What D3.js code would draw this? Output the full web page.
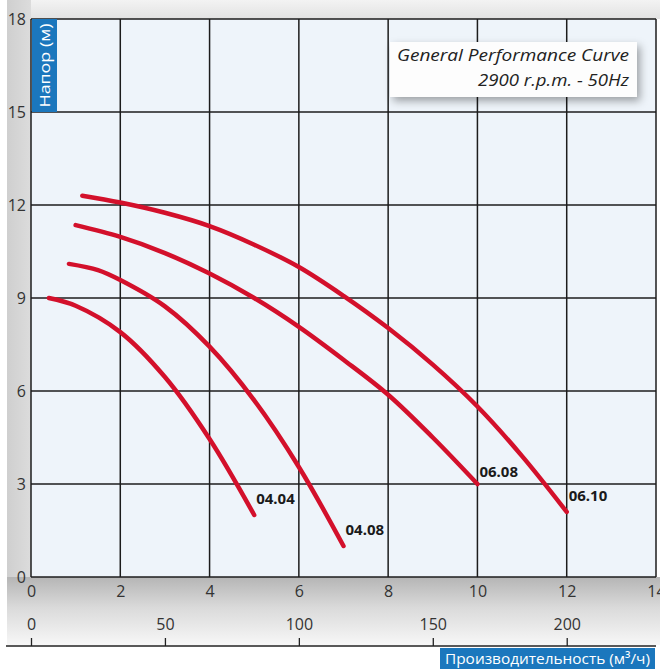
<!DOCTYPE html>
<html>
<head>
<meta charset="utf-8">
<script src="https://cdn.jsdelivr.net/npm/d3@7/dist/d3.min.js"></script>
<style>
  body { margin:0; background:#fff; }
  svg { display:block; }
  .tick text { font-family: "Open Sans", sans-serif; fill:#333; }
</style>
</head>
<body>
<script>
var width = 660, height = 669;

// axis ticks
var flowTicks = [0, 2, 4, 6, 8, 10, 12, 14];
var headTicks = [0, 3, 6, 9, 12, 15, 18];
var m3hTicks = [0, 50, 100, 150, 200];

// pump curves
var curveNames = ["04.04", "04.08", "06.08", "06.10"];
var flow0404 = [0.4, 1, 2, 3, 4, 5];
var head0404 = [9.0, 8.75, 7.9, 6.45, 4.45, 2.0];
var flow0408 = [0.85, 1.5, 2, 3, 4, 5, 6, 7];
var head0408 = [10.1, 9.9, 9.58, 8.73, 7.43, 5.7, 3.55, 1.0];
var flow0608 = [1.0, 2, 3, 4, 5, 6, 7, 8, 9, 10];
var head0608 = [11.35, 10.97, 10.45, 9.79, 9.0, 8.07, 7.01, 5.88, 4.5, 3.0];
var flow0610 = [1.15, 2, 3, 4, 5, 6, 7, 8, 9, 10, 11, 12];
var head0610 = [12.3, 12.08, 11.75, 11.32, 10.72, 10.0, 9.07, 8.03, 6.85, 5.5, 3.9, 2.1];

var titleLines = ["General Performance Curve", "2900 r.p.m. - 50Hz"];
var yTitle = "Напор (м)";
var xTitle = "Производительность (м³/ч)";

var series = [
  {name: curveNames[0], flow: flow0404, head: head0404},
  {name: curveNames[1], flow: flow0408, head: head0408},
  {name: curveNames[2], flow: flow0608, head: head0608},
  {name: curveNames[3], flow: flow0610, head: head0610}
];

var x = d3.scaleLinear().domain([0, 14]).range([31, 656]);
var y = d3.scaleLinear().domain([0, 18]).range([577, 19]);
// m3/h scale: 200 m3/h sits under 12 on the top axis
var x2 = d3.scaleLinear().domain([0, 14 * 200 / 12]).range([31, 656]);

var svg = d3.select("body").append("svg")
  .attr("width", width).attr("height", height);

var defs = svg.append("defs");
var gl = defs.append("linearGradient").attr("id", "leftband").attr("x1", 0).attr("x2", 1).attr("y1", 0).attr("y2", 0);
gl.append("stop").attr("offset", "0%").attr("stop-color", "#cfcfcf");
gl.append("stop").attr("offset", "100%").attr("stop-color", "#dcdcdc");
var gb = defs.append("linearGradient").attr("id", "shadow").attr("x1", 0).attr("x2", 0).attr("y1", 0).attr("y2", 1);
gb.append("stop").attr("offset", "0%").attr("stop-color", "#b5b5b5");
gb.append("stop").attr("offset", "45%").attr("stop-color", "#dadada");
gb.append("stop").attr("offset", "100%").attr("stop-color", "#f7f7f7");
var gt = defs.append("linearGradient").attr("id", "topband").attr("x1", 0).attr("x2", 0).attr("y1", 0).attr("y2", 1);
gt.append("stop").attr("offset", "0%").attr("stop-color", "#f3f3f3");
gt.append("stop").attr("offset", "100%").attr("stop-color", "#e2e2e2");
var flt = defs.append("filter").attr("id", "boxshadow").attr("x", "-10%").attr("y", "-20%").attr("width", "130%").attr("height", "160%");
flt.append("feDropShadow").attr("dx", 3).attr("dy", 4).attr("stdDeviation", 4).attr("flood-color", "#000").attr("flood-opacity", 0.35);

// backgrounds
svg.append("rect").attr("x", 7).attr("y", 0).attr("width", 653).attr("height", 19).attr("fill", "url(#topband)");
svg.append("rect").attr("x", 7).attr("y", 0).attr("width", 24).attr("height", 600).attr("fill", "url(#leftband)");
svg.append("rect").attr("x", 7).attr("y", 577).attr("width", 653).attr("height", 68).attr("fill", "url(#shadow)");
svg.append("rect")
  .attr("x", x(0)).attr("y", y(18))
  .attr("width", x(14) - x(0)).attr("height", y(0) - y(18))
  .attr("fill", "#eef4fa");

// grid
var grid = svg.append("g").attr("stroke", "#1c1c1c").attr("stroke-width", 1.5);
grid.selectAll(".vx").data(flowTicks).enter().append("line")
  .attr("x1", function(d) { return x(d); }).attr("x2", function(d) { return x(d); })
  .attr("y1", y(18)).attr("y2", y(0));
grid.selectAll(".hy").data(headTicks).enter().append("line")
  .attr("x1", x(0)).attr("x2", x(14))
  .attr("y1", function(d) { return y(d); }).attr("y2", function(d) { return y(d); });

// flow axis labels (below the plot)
var ax = svg.append("g").attr("transform", "translate(0," + y(0) + ")")
  .call(d3.axisBottom(x).tickValues(flowTicks).tickSize(0).tickPadding(9));
ax.select(".domain").remove();
ax.selectAll("text").attr("font-size", 16);

// head labels
var ay = svg.append("g").attr("transform", "translate(" + x(0) + ",0)")
  .call(d3.axisLeft(y).tickValues(headTicks).tickSize(0).tickPadding(5));
ay.select(".domain").remove();
ay.selectAll("text").attr("font-size", 16);

// m3/h axis
var a2 = svg.append("g").attr("transform", "translate(0,646)")
  .call(d3.axisTop(x2).tickValues(m3hTicks).tickSize(8).tickPadding(8));
a2.select(".domain").remove();
a2.selectAll("line").attr("stroke", "#222").attr("stroke-width", 1.3);
a2.selectAll("text").attr("font-size", 16);
svg.append("line").attr("x1", 6).attr("x2", 656).attr("y1", 646).attr("y2", 646)
  .attr("stroke", "#222").attr("stroke-width", 1.5);

// curves
var line = d3.line()
  .x(function(d) { return x(d[0]); })
  .y(function(d) { return y(d[1]); })
  .curve(d3.curveCatmullRom.alpha(0.5));

svg.selectAll(".curve").data(series).enter().append("path")
  .attr("class", "curve")
  .attr("d", function(s) { return line(d3.zip(s.flow, s.head)); })
  .attr("fill", "none")
  .attr("stroke", "#d3102b")
  .attr("stroke-width", 4.5)
  .attr("stroke-linecap", "round");

var labelDy = {"06.08": -7};
svg.selectAll(".clabel").data(series).enter().append("text")
  .attr("x", function(s) { return x(s.flow[s.flow.length - 1]) + 2; })
  .attr("y", function(s) { return y(s.head[s.head.length - 1]) + (labelDy[s.name] || -11); })
  .attr("font-family", "'Noto Sans', sans-serif")
  .attr("font-weight", "bold")
  .attr("font-size", 15)
  .attr("fill", "#1a1a1a")
  .text(function(s) { return s.name; });

// title box
svg.append("rect").attr("x", 390).attr("y", 42).attr("width", 247).attr("height", 55)
  .attr("fill", "#fdfdfd").attr("filter", "url(#boxshadow)");
svg.selectAll(".title").data(titleLines).enter().append("text")
  .attr("x", 629)
  .attr("y", function(d, i) { return 61 + i * 25; })
  .attr("text-anchor", "end")
  .attr("font-family", "'Open Sans', sans-serif")
  .attr("font-style", "italic")
  .attr("font-size", 17)
  .attr("fill", "#222")
  .attr("textLength", function(d, i) { return i === 0 ? 232 : 151; })
  .attr("lengthAdjust", "spacingAndGlyphs")
  .text(function(d) { return d; });

// y title box
svg.append("rect").attr("x", 32).attr("y", 19).attr("width", 25).attr("height", 93).attr("fill", "#1b77bd");
svg.append("text")
  .attr("transform", "translate(49.5,65.5) rotate(-90)")
  .attr("text-anchor", "middle")
  .attr("font-family", "'Open Sans', sans-serif")
  .attr("font-size", 14.5)
  .attr("fill", "#fff")
  .attr("textLength", 84)
  .attr("lengthAdjust", "spacingAndGlyphs")
  .text(yTitle);

// x title box
svg.append("rect").attr("x", 440).attr("y", 648).attr("width", 215).attr("height", 21).attr("fill", "#1b77bd");
svg.append("text")
  .attr("x", 547.5).attr("y", 664)
  .attr("text-anchor", "middle")
  .attr("font-family", "'Open Sans', sans-serif")
  .attr("font-size", 15)
  .attr("fill", "#fff")
  .attr("textLength", 205)
  .attr("lengthAdjust", "spacingAndGlyphs")
  .text(xTitle);
</script>
</body>
</html>
